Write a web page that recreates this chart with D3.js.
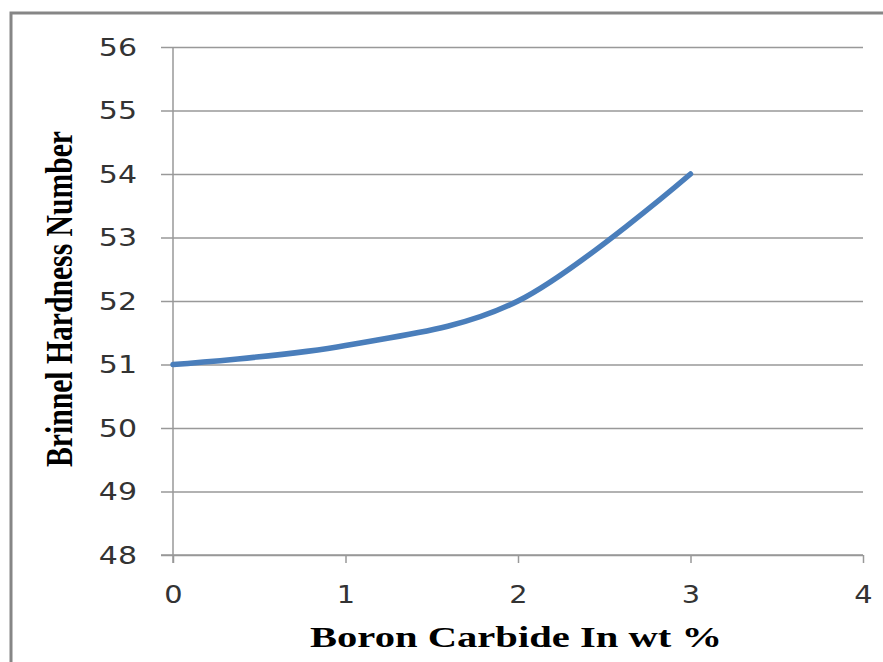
<!DOCTYPE html>
<html>
<head>
<meta charset="utf-8">
<script src="https://cdn.jsdelivr.net/npm/d3@7"></script>
<style>
  body { margin: 0; background: #fff; }
  svg { display: block; }
</style>
</head>
<body>
<svg id="chart" width="883" height="662"></svg>
<script>
// data
const boronWt = [0, 1, 2, 3];
const hardness = [51, 51.3, 52, 54];
const xTicks = [0, 1, 2, 3, 4];
const yTicks = [48, 49, 50, 51, 52, 53, 54, 55, 56];

const svg = d3.select("#chart");
const plotL = 173, plotR = 863, plotT = 47, plotB = 555;

// outer frame (cut off at right and bottom like the reference)
svg.append("rect")
  .attr("x", 11).attr("y", 13)
  .attr("width", 900).attr("height", 700)
  .attr("fill", "none")
  .attr("stroke", "#868686")
  .attr("stroke-width", 3);

const x = d3.scaleLinear().domain([0, 4]).range([plotL, plotR]);
const y = d3.scaleLinear().domain([48, 56]).range([plotB, plotT]);

// gridlines + y axis
const yAxis = svg.append("g")
  .attr("transform", `translate(${plotL},0)`)
  .call(d3.axisLeft(y).tickValues(yTicks).tickSize(12).tickPadding(24).tickFormat(d3.format("d")));
yAxis.select(".domain").remove();
yAxis.selectAll(".tick line").attr("stroke", "#999").attr("stroke-width", 1.5)
  .attr("x2", -12).clone().attr("x2", plotR - plotL);
yAxis.selectAll(".tick text")
  .attr("fill", "#333")
  .style("font-family", "DejaVu Sans")
  .style("font-size", "25px")
  .attr("transform", "scale(1.2,1)")
  .attr("x", -30);

const xAxis = svg.append("g")
  .attr("transform", `translate(0,${plotB})`)
  .call(d3.axisBottom(x).tickValues(xTicks).tickSize(8).tickPadding(23).tickFormat(d3.format("d")));
xAxis.select(".domain").attr("stroke", "#999").attr("stroke-width", 1.5)
  .attr("d", `M${plotL - 12},0H${plotR}`);
xAxis.selectAll(".tick line").attr("stroke", "#999").attr("stroke-width", 1.5);
xAxis.selectAll(".tick text")
  .attr("fill", "#333")
  .style("font-family", "DejaVu Sans")
  .style("font-size", "24px")
  .attr("transform", "scale(1.2,1)");

// vertical axis line
svg.append("line")
  .attr("x1", plotL).attr("x2", plotL)
  .attr("y1", plotT).attr("y2", plotB + 8)
  .attr("stroke", "#999").attr("stroke-width", 1.5);

// smoothed series line
const line = d3.line()
  .x((d, i) => x(boronWt[i]))
  .y(d => y(d))
  .curve(d3.curveCardinal.tension(0));

svg.append("path")
  .datum(hardness)
  .attr("d", line)
  .attr("fill", "none")
  .attr("stroke", "#4a7ebb")
  .attr("stroke-width", 5.5)
  .attr("stroke-linecap", "round");

// axis titles
svg.append("text")
  .attr("transform", "translate(72,299) rotate(-90)")
  .attr("text-anchor", "middle")
  .attr("textLength", 336)
  .attr("lengthAdjust", "spacingAndGlyphs")
  .style("font-family", "Liberation Serif")
  .style("font-weight", "bold")
  .style("font-size", "38px")
  .attr("fill", "#000")
  .text("Brinnel Hardness Number");

svg.append("text")
  .attr("x", 516).attr("y", 647)
  .attr("text-anchor", "middle")
  .attr("textLength", 412)
  .attr("lengthAdjust", "spacingAndGlyphs")
  .style("font-family", "Liberation Serif")
  .style("font-weight", "bold")
  .style("font-size", "29px")
  .attr("fill", "#000")
  .text("Boron Carbide In wt %");
</script>
</body>
</html>
